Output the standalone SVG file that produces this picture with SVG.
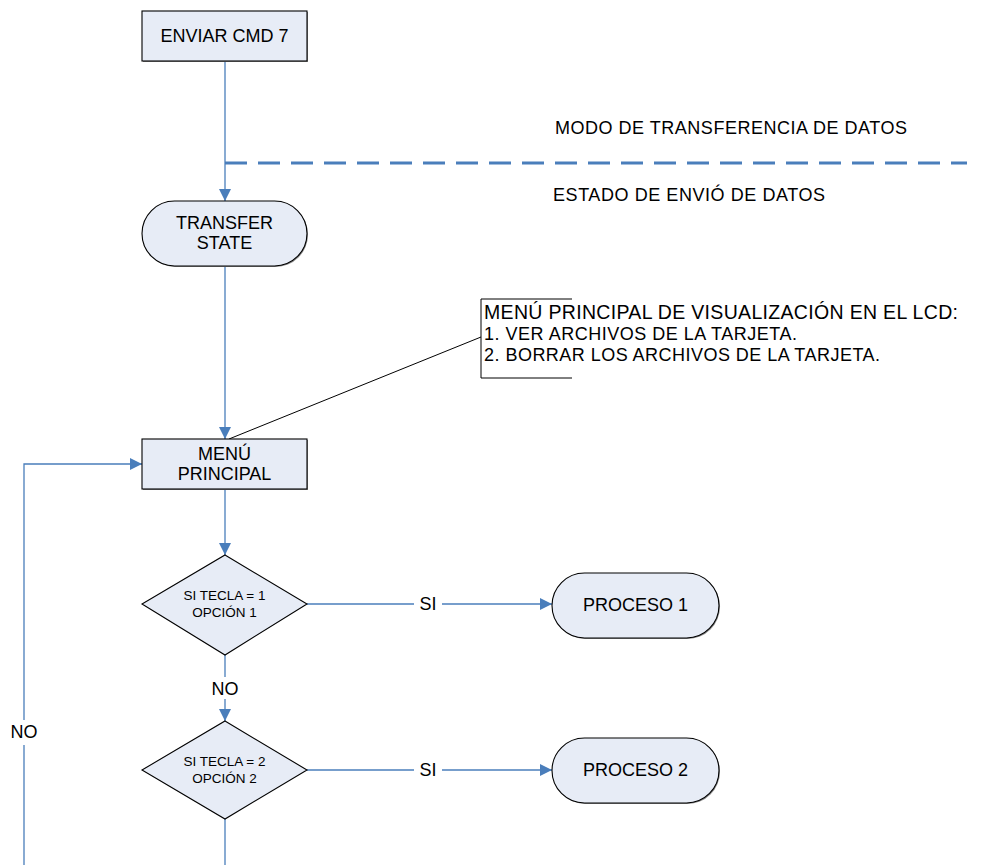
<svg xmlns="http://www.w3.org/2000/svg" width="988" height="865" viewBox="0 0 988 865">
  <style>
    .shape { fill: #e7ecf6; stroke: #000; stroke-width: 1.1; }
    .shadow { fill: #8a8a8a; }
    .conn { fill: none; stroke: #4a7ebb; stroke-width: 1.3; }
    .note { fill: none; stroke: #000; stroke-width: 1; }
    .t { font-family: "Liberation Sans", Arial, sans-serif; fill: #000; text-anchor: middle; }
    .l { font-family: "Liberation Sans", Arial, sans-serif; fill: #000; }
    .big { font-size: 18px; }
    .sm { font-size: 13.5px; }
  </style>
  <defs>
    <marker id="arrow" viewBox="0 0 12 12" refX="12" refY="6" markerWidth="12" markerHeight="12" markerUnits="userSpaceOnUse" orient="auto">
      <path d="M0,0 L12,6 L0,12 Z" fill="#4a7ebb"/>
    </marker>
  </defs>

  <rect width="988" height="865" fill="#fff"/>

  <!-- mode separator -->
  <g id="separator">
    <line x1="225" y1="163" x2="967" y2="163" stroke="#4a7ebb" stroke-width="3" stroke-dasharray="22 11"/>
    <text class="l big" x="555" y="134" textLength="352">MODO DE TRANSFERENCIA DE DATOS</text>
    <text class="l big" x="553" y="201" textLength="272">ESTADO DE ENVIÓ DE DATOS</text>
  </g>

  <!-- connectors -->
  <g id="connectors">
    <line class="conn" x1="225" y1="61" x2="225" y2="201" marker-end="url(#arrow)"/>
    <line class="conn" x1="225" y1="266" x2="225" y2="439" marker-end="url(#arrow)"/>
    <line class="conn" x1="225" y1="489" x2="225" y2="555" marker-end="url(#arrow)"/>
    <line class="conn" x1="307" y1="604" x2="552" y2="604" marker-end="url(#arrow)"/>
    <path class="conn" d="M225,655 V677 M225,699 V721" marker-end="url(#arrow)"/>
    <line class="conn" x1="307" y1="770" x2="552" y2="770" marker-end="url(#arrow)"/>
    <line class="conn" x1="225" y1="819" x2="225" y2="865"/>
    <path class="conn" d="M24,865 V745 M24,720 V464 H142" marker-end="url(#arrow)"/>
    <rect x="414" y="594" width="28" height="20" fill="#fff"/>
    <text class="t big" x="428" y="610">SI</text>
    <rect x="414" y="760" width="28" height="20" fill="#fff"/>
    <text class="t big" x="428" y="776">SI</text>
    <text class="t big" x="225" y="695">NO</text>
    <text class="t big" x="24" y="738">NO</text>
  </g>

  <g id="enviar-cmd7">
    <rect class="shadow" x="143" y="12" width="165" height="50"/>
    <rect class="shape" x="142" y="11" width="165" height="50"/>
    <text class="t big" x="224.5" y="42">ENVIAR CMD 7</text>
  </g>

  <g id="transfer-state">
    <rect class="shadow" x="143" y="202" width="165" height="65" rx="32.5"/>
    <rect class="shape" x="142" y="201" width="165" height="65" rx="32.5"/>
    <text class="t big" x="224.5" y="229">TRANSFER</text>
    <text class="t big" x="224.5" y="249">STATE</text>
  </g>

  <g id="nota-menu">
    <path class="note" d="M572,299 H481 V378 H572"/>
    <line class="note" x1="481" y1="337" x2="229" y2="439"/>
    <text class="l" x="484" y="319" font-size="19.5" textLength="474">MENÚ PRINCIPAL DE VISUALIZACIÓN EN EL LCD:</text>
    <text class="l" x="484" y="340" font-size="18" textLength="313">1. VER ARCHIVOS DE LA TARJETA.</text>
    <text class="l" x="484" y="361" font-size="18" textLength="396">2. BORRAR LOS ARCHIVOS DE LA TARJETA.</text>
  </g>

  <g id="menu-principal">
    <rect class="shadow" x="143" y="440" width="165" height="50"/>
    <rect class="shape" x="142" y="439" width="165" height="50"/>
    <text class="t big" x="224.5" y="460">MENÚ</text>
    <text class="t big" x="224.5" y="480">PRINCIPAL</text>
  </g>

  <g id="decision-1">
    <polygon class="shape" points="225,555 307,604 225,655 142,604"/>
    <text class="t sm" x="224.5" y="600">SI TECLA = 1</text>
    <text class="t sm" x="224.5" y="617">OPCIÓN 1</text>
  </g>

  <g id="proceso-1">
    <rect class="shadow" x="553" y="574" width="167" height="65" rx="32.5"/>
    <rect class="shape" x="552" y="573" width="167" height="65" rx="32.5"/>
    <text class="t big" x="635.5" y="611">PROCESO 1</text>
  </g>

  <g id="decision-2">
    <polygon class="shape" points="225,721 307,770 225,819 142,770"/>
    <text class="t sm" x="224.5" y="766">SI TECLA = 2</text>
    <text class="t sm" x="224.5" y="783">OPCIÓN 2</text>
  </g>

  <g id="proceso-2">
    <rect class="shadow" x="553" y="739" width="167" height="65" rx="32.5"/>
    <rect class="shape" x="552" y="738" width="167" height="65" rx="32.5"/>
    <text class="t big" x="635.5" y="776">PROCESO 2</text>
  </g>
</svg>
